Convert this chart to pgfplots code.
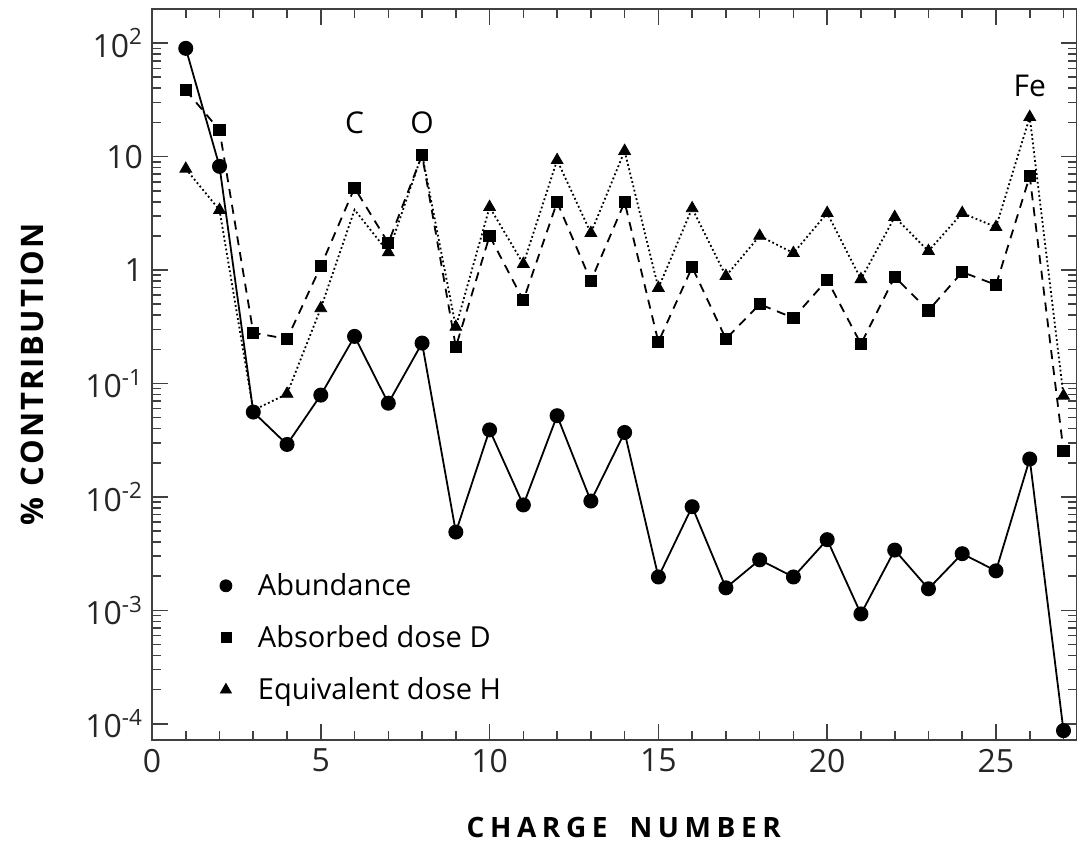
\documentclass[border=0pt]{standalone}
\usepackage{pgfplots}
\pgfplotsset{compat=1.18}
\usepackage{fontspec}
\setmainfont{Open Sans}
\newcommand\lgap{\hspace{2.8pt}}
\newcommand\wgap{\hspace{11pt}}
\newcommand\ygap{\hspace{1pt}}
\begin{document}
\begin{tikzpicture}
\begin{axis}[
  name=ax,
  scale only axis,
  width=462.5pt, height=365.5pt,
  xmin=0, xmax=27.4,
  ymode=log,
  ymin=7.2e-5, ymax=200,
  axis line style={line width=0.9pt, black!75},
  xtick={0,5,10,15,20,25},
  minor xtick={1,2,3,4,6,7,8,9,11,12,13,14,16,17,18,19,21,22,23,24,26,27},
  ytick={1e-4,1e-3,1e-2,1e-1,1,10,100},
  minor ytick={2e-4,3e-4,4e-4,5e-4,6e-4,7e-4,8e-4,9e-4,
    2e-3,3e-3,4e-3,5e-3,6e-3,7e-3,8e-3,9e-3,
    2e-2,3e-2,4e-2,5e-2,6e-2,7e-2,8e-2,9e-2,
    0.2,0.3,0.4,0.5,0.6,0.7,0.8,0.9,2,3,4,5,6,7,8,9,20,30,40,50,60,70,80,90},
  yticklabels={10\textsuperscript{-4},10\textsuperscript{-3},10\textsuperscript{-2},10\textsuperscript{-1},1,10,10\textsuperscript{2}},
  tick align=inside,
  major tick length=8pt,
  minor tick length=4.5pt,
  every tick/.style={black!75, line width=0.8pt},
  /pgf/number format/assume math mode=true,
  tick label style={font=\fontsize{16}{18}\selectfont, black!85},
  xticklabel style={yshift=-1pt},
  yticklabel style={xshift=-1pt},
  xlabel={\bfseries\fontsize{14}{16}\selectfont C\lgap H\lgap A\lgap R\lgap G\lgap E\wgap N\lgap U\lgap M\lgap B\lgap E\lgap R},
  ylabel={\bfseries\fontsize{15.5}{17}\selectfont \%\hspace{5.5pt}C\ygap O\ygap N\ygap T\ygap R\ygap I\ygap B\ygap U\ygap T\ygap I\ygap O\ygap N},
  xlabel style={at={(ticklabel cs:0.51)}, anchor=north, yshift=-15.5pt},
  ylabel style={at={(ticklabel cs:0.5)}, anchor=south, yshift=14pt},
  legend style={at={(axis cs:2.0,2.32e-3)}, anchor=north west, draw=none, fill=none,
     font=\fontsize{14.5}{16}\selectfont, row sep=9.5pt, inner sep=0pt},
  legend image code/.code={\path[draw=none] (-3pt,0pt) -- (14pt,0pt); \draw[#1] plot coordinates {(0pt,0pt)};},
  legend cell align=left,
  clip=false,
]
% Abundance
\addplot[black, line width=0.9pt, mark=*, mark size=3.3pt, forget plot] coordinates {
(1,90)(2,8.2)(3,0.056)(4,0.029)(5,0.079)(6,0.26)(7,0.067)(8,0.227)(9,0.0049)
(10,0.039)(11,0.0085)(12,0.052)(13,0.0092)(14,0.037)(15,0.00197)(16,0.0082)
(17,0.00158)(18,0.00279)(19,0.00197)(20,0.0042)(21,0.00093)(22,0.0034)
(23,0.00155)(24,0.00316)(25,0.00223)(26,0.0216)(27,0.000087)};
% Absorbed dose D
\addplot[black, line width=0.9pt, dash pattern=on 4.5pt off 3.5pt, mark=square*, mark size=2.6pt, mark options={solid}, forget plot] coordinates {
(1,38.5)(2,17.1)(3,0.28)(4,0.247)(5,1.08)(6,5.3)(7,1.73)(8,10.3)(9,0.21)
(10,2.0)(11,0.54)(12,3.97)(13,0.80)(14,3.97)(15,0.232)(16,1.06)(17,0.247)
(18,0.50)(19,0.378)(20,0.82)(21,0.223)(22,0.87)(23,0.44)(24,0.96)(25,0.74)
(26,6.7)(27,0.0254)};
% Equivalent dose H (line)
\addplot[black, line width=0.9pt, dash pattern=on 0.9pt off 1.3pt, forget plot] coordinates {
(1,7.8)(2,3.38)(3,0.058)(4,0.081)(5,0.46)(6,3.4)(7,1.43)(8,10.5)(9,0.315)
(10,3.59)(11,1.13)(12,9.3)(13,2.12)(14,11.2)(15,0.695)(16,3.5)(17,0.885)
(18,2.0)(19,1.41)(20,3.18)(21,0.83)(22,2.93)(23,1.47)(24,3.18)(25,2.39)
(26,22.3)(27,0.078)};
% Equivalent dose H (marks)
\addplot[black, only marks, mark=triangle*, mark size=3.4pt, forget plot] coordinates {
(1,7.8)(2,3.38)(4,0.081)(5,0.46)(7,1.43)(9,0.315)
(10,3.59)(11,1.13)(12,9.3)(13,2.12)(14,11.2)(15,0.695)(16,3.5)(17,0.885)
(18,2.0)(19,1.41)(20,3.18)(21,0.83)(22,2.93)(23,1.47)(24,3.18)(25,2.39)
(26,22.3)(27,0.078)};
\addlegendimage{black, only marks, mark=*, mark size=3pt}
\addlegendentry{Abundance}
\addlegendimage{black, only marks, mark=square*, mark size=2.5pt}
\addlegendentry{Absorbed dose D}
\addlegendimage{black, only marks, mark=triangle*, mark size=3.2pt}
\addlegendentry{Equivalent dose H}
\node[font=\fontsize{15}{17}\selectfont] at (axis cs:6,19.7) {C};
\node[font=\fontsize{15}{17}\selectfont] at (axis cs:8,19.7) {O};
\node[font=\fontsize{15}{17}\selectfont] at (axis cs:26,41.8) {Fe};
\end{axis}
\pgfresetboundingbox
\path[use as bounding box] ([shift={(-76pt,-52.5pt)}]ax.south west) rectangle ([shift={(0pt,4.5pt)}]ax.north east);
\end{tikzpicture}
\end{document}
